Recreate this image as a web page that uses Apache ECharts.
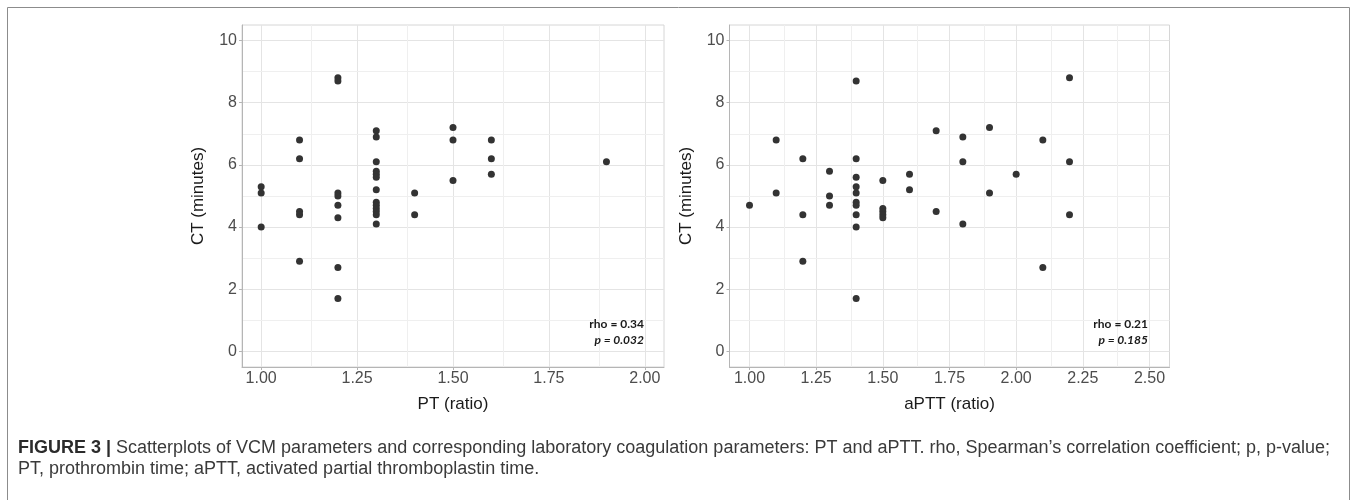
<!DOCTYPE html>
<html>
<head>
<meta charset="utf-8">
<script src="https://cdn.jsdelivr.net/npm/echarts@6/dist/echarts.min.js"></script>
<style>
html,body{margin:0;padding:0;background:#fff;}
#chart{width:1357px;height:500px;}
</style>
</head>
<body>
<div id="chart"></div>
<script>
// ---- Data ----
const ptRatio = [1.0,1.0,1.0, 1.1,1.1,1.1,1.1,1.1, 1.2,1.2,1.2,1.2,1.2,1.2,1.2,1.2,
  1.3,1.3,1.3,1.3,1.3,1.3,1.3,1.3,1.3,1.3,1.3,1.3,1.3, 1.4,1.4, 1.5,1.5,1.5, 1.6,1.6,1.6, 1.9];
const ptCT = [5.3,5.1,4.0, 6.8,6.2,4.5,4.4,2.9, 8.8,8.7,5.1,5.0,4.7,4.3,2.7,1.7,
  7.1,6.9,6.1,5.8,5.7,5.6,5.2,4.8,4.7,4.6,4.5,4.4,4.1, 5.1,4.4, 7.2,6.8,5.5, 6.8,6.2,5.7, 6.1];

const apttRatio = [1.0, 1.1,1.1, 1.2,1.2,1.2, 1.3,1.3,1.3,
  1.4,1.4,1.4,1.4,1.4,1.4,1.4,1.4,1.4,1.4, 1.5,1.5,1.5,1.5,1.5, 1.6,1.6, 1.7,1.7,
  1.8,1.8,1.8, 1.9,1.9, 2.0, 2.1,2.1, 2.2,2.2,2.2];
const apttCT = [4.7, 6.8,5.1, 6.2,4.4,2.9, 5.8,5.0,4.7,
  8.7,6.2,5.6,5.3,5.1,4.8,4.7,4.4,4.0,1.7, 5.5,4.6,4.5,4.4,4.3, 5.7,5.2, 7.1,4.5,
  6.9,6.1,4.1, 7.2,5.1, 5.7, 6.8,2.7, 8.8,6.1,4.4];

// tick positions / labels
const ptMajorTicks = [1.0,1.25,1.5,1.75,2.0];
const ptMinorTicks = [1.125,1.375,1.625,1.875];
const apttMajorTicks = [1.0,1.25,1.5,1.75,2.0,2.25,2.5];
const apttMinorTicks = [1.125,1.375,1.625,1.875,2.125,2.375];
const ctMajorTicks = [0,2,4,6,8,10];
const ctMinorTicks = [1,3,5,7,9];

const xNames = ['PT (ratio)','aPTT (ratio)'];
const yName = 'CT (minutes)';
const stats = [['rho = 0.34','p = 0.032'],['rho = 0.21','p = 0.185']];
const captionBold = 'FIGURE 3 |';
const captionLine1 = ' Scatterplots of VCM parameters and corresponding laboratory coagulation parameters: PT and aPTT. rho, Spearman\u2019s correlation coefficient; p, p-value;';
const captionLine2 = 'PT, prothrombin time; aPTT, activated partial thromboplastin time.';

// ---- Chart ----
const chart = echarts.init(document.getElementById('chart'), null, {renderer:'canvas'});
const zip = (a,b)=>a.map((v,i)=>[v,b[i]]);

const gridColor = '#e4e4e4';
const minorColor = '#efefef';
const axisFont = 'Liberation Sans, Arial, sans-serif';

function xAxisCfg(idx, min, max, ticks){
  return {
    type:'value', gridIndex:idx, min:min, max:max,
    name:xNames[idx], nameLocation:'middle', nameGap:29,
    nameTextStyle:{fontFamily:axisFont, fontSize:17, color:'#1a1a1a'},
    axisLine:{show:true, onZero:false, lineStyle:{color:'#b5b5b5', width:1}},
    axisTick:{show:true, length:3, customValues:ticks, lineStyle:{color:'#b5b5b5'}},
    axisLabel:{customValues:ticks, margin:4, fontFamily:axisFont, fontSize:16, color:'#4d4d4d',
      formatter:v=>Number(v).toFixed(2)},
    splitLine:{show:true, lineStyle:{color:gridColor, width:1}}
  };
}
function yAxisCfg(idx){
  return {
    type:'value', gridIndex:idx, min:-0.5, max:10.5,
    name:yName, nameLocation:'middle', nameGap:35,
    nameTextStyle:{fontFamily:axisFont, fontSize:17, color:'#1a1a1a'},
    axisLine:{show:true, onZero:false, lineStyle:{color:'#b5b5b5', width:1}},
    axisTick:{show:true, length:3, customValues:ctMajorTicks, lineStyle:{color:'#b5b5b5'}},
    axisLabel:{customValues:ctMajorTicks, margin:5, fontFamily:axisFont, fontSize:16, color:'#4d4d4d'},
    splitLine:{show:true, lineStyle:{color:gridColor, width:1}}
  };
}
function minorSeries(idx, xs){
  const data = xs.map(v=>({xAxis:v})).concat(ctMinorTicks.map(v=>({yAxis:v})));
  return {
    type:'scatter', xAxisIndex:idx, yAxisIndex:idx, data:[], z:0, silent:true,
    markLine:{silent:true, symbol:['none','none'], label:{show:false}, z:0,
      lineStyle:{color:minorColor, width:1, type:'solid'}, emphasis:{disabled:true},
      animation:false, data:data}
  };
}
function pointSeries(idx, xs, ys){
  return {
    type:'scatter', xAxisIndex:idx, yAxisIndex:idx, data:zip(xs,ys), z:5,
    symbol:'circle', symbolSize:7, itemStyle:{color:'#333333', opacity:1},
    emphasis:{disabled:true}
  };
}
function statText(idx, x, y){
  return [
    {type:'text', x:x, y:y, z:100, zlevel:0, style:{text:stats[idx][0], align:'right', verticalAlign:'middle',
      font:'bold 12px Lato, "Open Sans", sans-serif', fill:'#1a1a1a'}},
    {type:'text', x:x, y:y+16, z:100, zlevel:0, style:{text:stats[idx][1], align:'right', verticalAlign:'middle',
      font:'italic bold 12px Lato, "Open Sans", sans-serif', fill:'#1a1a1a'}}
  ];
}

const option = {
  animation:false,
  backgroundColor:'#ffffff',
  grid:[
    {left:242, top:25, width:422, height:342, show:true, borderColor:'#d6d6d6', borderWidth:1, containLabel:false},
    {left:729.5, top:25, width:440, height:342, show:true, borderColor:'#d6d6d6', borderWidth:1, containLabel:false}
  ],
  xAxis:[xAxisCfg(0,0.95,2.05,ptMajorTicks), xAxisCfg(1,0.925,2.575,apttMajorTicks)],
  yAxis:[yAxisCfg(0), yAxisCfg(1)],
  series:[
    minorSeries(0, ptMinorTicks), minorSeries(1, apttMinorTicks),
    pointSeries(0, ptRatio, ptCT), pointSeries(1, apttRatio, apttCT)
  ],
  graphic:{elements:[
    {type:'rect', z:100, shape:{x:7.5, y:7.5, width:1342, height:520}, style:{fill:'none', stroke:'#8c8c8c', lineWidth:1}, silent:true},
    ...statText(0, 644, 324),
    ...statText(1, 1148, 324),
    {type:'text', x:18, y:448, z:100, style:{
      text:'{b|'+captionBold+'}{r|'+captionLine1+'}', verticalAlign:'middle',
      rich:{
        b:{font:'bold 18px "Liberation Sans", Arial, sans-serif', fill:'#2b2b2b'},
        r:{font:'18px "Liberation Sans", Arial, sans-serif', fill:'#3a3a3a'}
      }}},
    {type:'text', x:18, y:469, z:100, style:{text:captionLine2, verticalAlign:'middle',
      font:'18px "Liberation Sans", Arial, sans-serif', fill:'#3a3a3a'}}
  ]}
};
chart.setOption(option);
</script>
</body>
</html>
